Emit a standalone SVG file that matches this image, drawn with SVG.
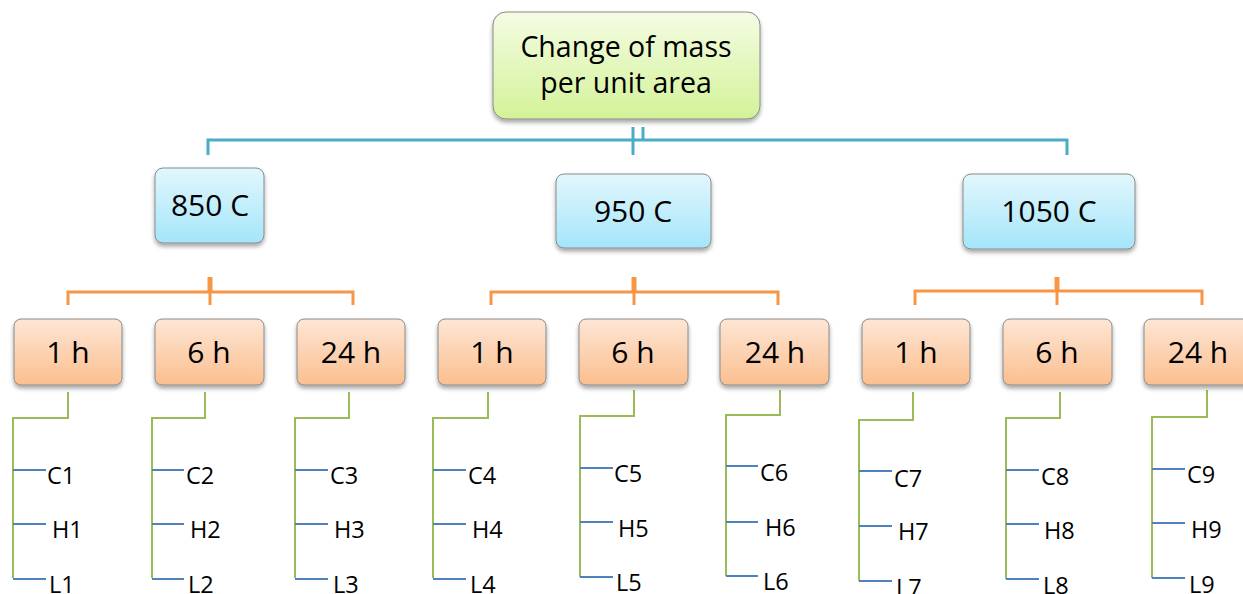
<svg xmlns="http://www.w3.org/2000/svg" width="1243" height="594" viewBox="0 0 1243 594">
  <defs>
    <linearGradient id="gGreen" x1="0" y1="0" x2="0" y2="1">
      <stop offset="0" stop-color="#f4fce3"/>
      <stop offset="1" stop-color="#d3f298"/>
    </linearGradient>
    <linearGradient id="gBlue" x1="0" y1="0" x2="0" y2="1">
      <stop offset="0" stop-color="#e2f7fd"/>
      <stop offset="1" stop-color="#a4e5fa"/>
    </linearGradient>
    <linearGradient id="gOrange" x1="0" y1="0" x2="0" y2="1">
      <stop offset="0" stop-color="#fde6d5"/>
      <stop offset="1" stop-color="#fbbf8f"/>
    </linearGradient>
    <filter id="shadow" x="-10%" y="-10%" width="120%" height="140%">
      <feDropShadow dx="0" dy="3" stdDeviation="2" flood-color="#000" flood-opacity="0.35"/>
    </filter>
  </defs>
  <style>
    .box { stroke: #8a8a8a; stroke-width: 1; filter: url(#shadow); }
    .root { fill: url(#gGreen); }
    .temp { fill: url(#gBlue); }
    .time { fill: url(#gOrange); }
    .t { font-family: "Open Sans", "Liberation Sans", sans-serif; fill: #000; text-anchor: middle; }
    .big { font-size: 28.5px; }
    .mid { font-size: 30px; }
    .lbl { font-family: "Open Sans", "Liberation Sans", sans-serif; font-size: 23.5px; fill: #000; }
    .c-blue { stroke: #4bacc6; stroke-width: 3; fill: none; }
    .c-orange { stroke: #f79646; stroke-width: 3; fill: none; }
    .c-green { stroke: #9bbb59; stroke-width: 2; fill: none; }
    .c-tick { stroke: #4f81bd; stroke-width: 2; fill: none; }
  </style>

  <rect width="1243" height="594" fill="#ffffff"/>

  <!-- connectors -->
  <g id="connectors">
    <!-- root to temperatures -->
    <path class="c-blue" d="M208,155 V140 H1067 V155"/>
    <path class="c-blue" d="M633,127 V155"/>
    <path class="c-blue" d="M643,127 V140"/>
    <!-- temperatures to times -->
    <path class="c-orange" d="M68,305 V292 H353 V305"/>
    <path class="c-orange" d="M210,305 V283"/>
    <path stroke="#f79646" stroke-width="5" d="M210,277 V292"/>
    <path class="c-orange" d="M491,305 V292 H778 V305"/>
    <path class="c-orange" d="M634,305 V283"/>
    <path stroke="#f79646" stroke-width="5" d="M634,277 V292"/>
    <path class="c-orange" d="M915,305 V291 H1202 V305"/>
    <path class="c-orange" d="M1057,305 V283"/>
    <path stroke="#f79646" stroke-width="5" d="M1057,277 V291"/>
    <!-- times to samples -->
    <path class="c-green" d="M68,392 V418 H13 V578"/>
    <path class="c-tick" d="M13,470 H46 M13,524 H46 M13,579 H46"/>
    <path class="c-green" d="M205,392 V418 H152 V578"/>
    <path class="c-tick" d="M152,470 H184 M152,524 H184 M152,579 H184"/>
    <path class="c-green" d="M349,392 V418 H295 V578"/>
    <path class="c-tick" d="M295,470 H328 M295,524 H328 M295,579 H328"/>
    <path class="c-green" d="M488,392 V418 H433 V578"/>
    <path class="c-tick" d="M433,470 H466 M433,524 H466 M433,579 H466"/>
    <path class="c-green" d="M634,390 V416 H580 V577"/>
    <path class="c-tick" d="M580,468 H613 M580,522 H613 M580,577 H613"/>
    <path class="c-green" d="M780,390 V415 H726 V576"/>
    <path class="c-tick" d="M726,466 H758 M726,522 H758 M726,576 H758"/>
    <path class="c-green" d="M913,392 V420 H859 V581"/>
    <path class="c-tick" d="M859,471 H892 M859,526 H892 M859,581 H892"/>
    <path class="c-green" d="M1060,392 V418 H1006 V579"/>
    <path class="c-tick" d="M1006,470 H1039 M1006,524 H1039 M1006,579 H1039"/>
    <path class="c-green" d="M1207,390 V417 H1152 V578"/>
    <path class="c-tick" d="M1152,469 H1185 M1152,523 H1185 M1152,578 H1185"/>
  </g>

  <!-- root node -->
  <g id="root">
    <rect class="box root" x="493" y="12" width="267" height="107" rx="13"/>
    <text class="t big" x="626" y="57">Change of mass</text>
    <text class="t big" x="626" y="93">per unit area</text>
  </g>

  <!-- temperature nodes -->
  <g id="t850">
    <rect class="box temp" x="155" y="168" width="109" height="75" rx="8"/>
    <text class="t mid" x="210" y="216">850 C</text>
  </g>
  <g id="t950">
    <rect class="box temp" x="556" y="174" width="155" height="74" rx="8"/>
    <text class="t mid" x="633" y="222">950 C</text>
  </g>
  <g id="t1050">
    <rect class="box temp" x="963" y="174" width="172" height="75" rx="8"/>
    <text class="t mid" x="1049" y="222">1050 C</text>
  </g>

  <!-- time nodes -->
  <g id="t850-1h">
    <rect class="box time" x="14" y="319" width="108" height="66" rx="7"/>
    <text class="t mid" x="68" y="363">1 h</text>
  </g>
  <g id="t850-6h">
    <rect class="box time" x="155" y="319" width="109" height="66" rx="7"/>
    <text class="t mid" x="209" y="363">6 h</text>
  </g>
  <g id="t850-24h">
    <rect class="box time" x="297" y="319" width="108" height="66" rx="7"/>
    <text class="t mid" x="351" y="363">24 h</text>
  </g>
  <g id="t950-1h">
    <rect class="box time" x="438" y="319" width="108" height="66" rx="7"/>
    <text class="t mid" x="492" y="363">1 h</text>
  </g>
  <g id="t950-6h">
    <rect class="box time" x="579" y="319" width="109" height="66" rx="7"/>
    <text class="t mid" x="633" y="363">6 h</text>
  </g>
  <g id="t950-24h">
    <rect class="box time" x="720" y="319" width="109" height="66" rx="7"/>
    <text class="t mid" x="775" y="363">24 h</text>
  </g>
  <g id="t1050-1h">
    <rect class="box time" x="862" y="319" width="108" height="66" rx="7"/>
    <text class="t mid" x="916" y="363">1 h</text>
  </g>
  <g id="t1050-6h">
    <rect class="box time" x="1003" y="319" width="109" height="66" rx="7"/>
    <text class="t mid" x="1057" y="363">6 h</text>
  </g>
  <g id="t1050-24h">
    <rect class="box time" x="1144" y="319" width="109" height="66" rx="7"/>
    <text class="t mid" x="1198" y="363">24 h</text>
  </g>

  <!-- sample labels -->
  <g id="s1">
    <text class="lbl" x="47" y="484">C1</text>
    <text class="lbl" x="52" y="538">H1</text>
    <text class="lbl" x="49" y="593">L1</text>
  </g>
  <g id="s2">
    <text class="lbl" x="186" y="484">C2</text>
    <text class="lbl" x="190" y="538">H2</text>
    <text class="lbl" x="188" y="593">L2</text>
  </g>
  <g id="s3">
    <text class="lbl" x="330" y="484">C3</text>
    <text class="lbl" x="334" y="538">H3</text>
    <text class="lbl" x="333" y="593">L3</text>
  </g>
  <g id="s4">
    <text class="lbl" x="468" y="484">C4</text>
    <text class="lbl" x="472" y="538">H4</text>
    <text class="lbl" x="470" y="593">L4</text>
  </g>
  <g id="s5">
    <text class="lbl" x="614" y="482">C5</text>
    <text class="lbl" x="618" y="537">H5</text>
    <text class="lbl" x="616" y="591">L5</text>
  </g>
  <g id="s6">
    <text class="lbl" x="760" y="481">C6</text>
    <text class="lbl" x="765" y="536">H6</text>
    <text class="lbl" x="763" y="590">L6</text>
  </g>
  <g id="s7">
    <text class="lbl" x="894" y="487">C7</text>
    <text class="lbl" x="898" y="540">H7</text>
    <text class="lbl" x="896" y="596">L7</text>
  </g>
  <g id="s8">
    <text class="lbl" x="1041" y="485">C8</text>
    <text class="lbl" x="1044" y="539">H8</text>
    <text class="lbl" x="1043" y="594">L8</text>
  </g>
  <g id="s9">
    <text class="lbl" x="1187" y="483">C9</text>
    <text class="lbl" x="1191" y="538">H9</text>
    <text class="lbl" x="1189" y="593">L9</text>
  </g>
</svg>
